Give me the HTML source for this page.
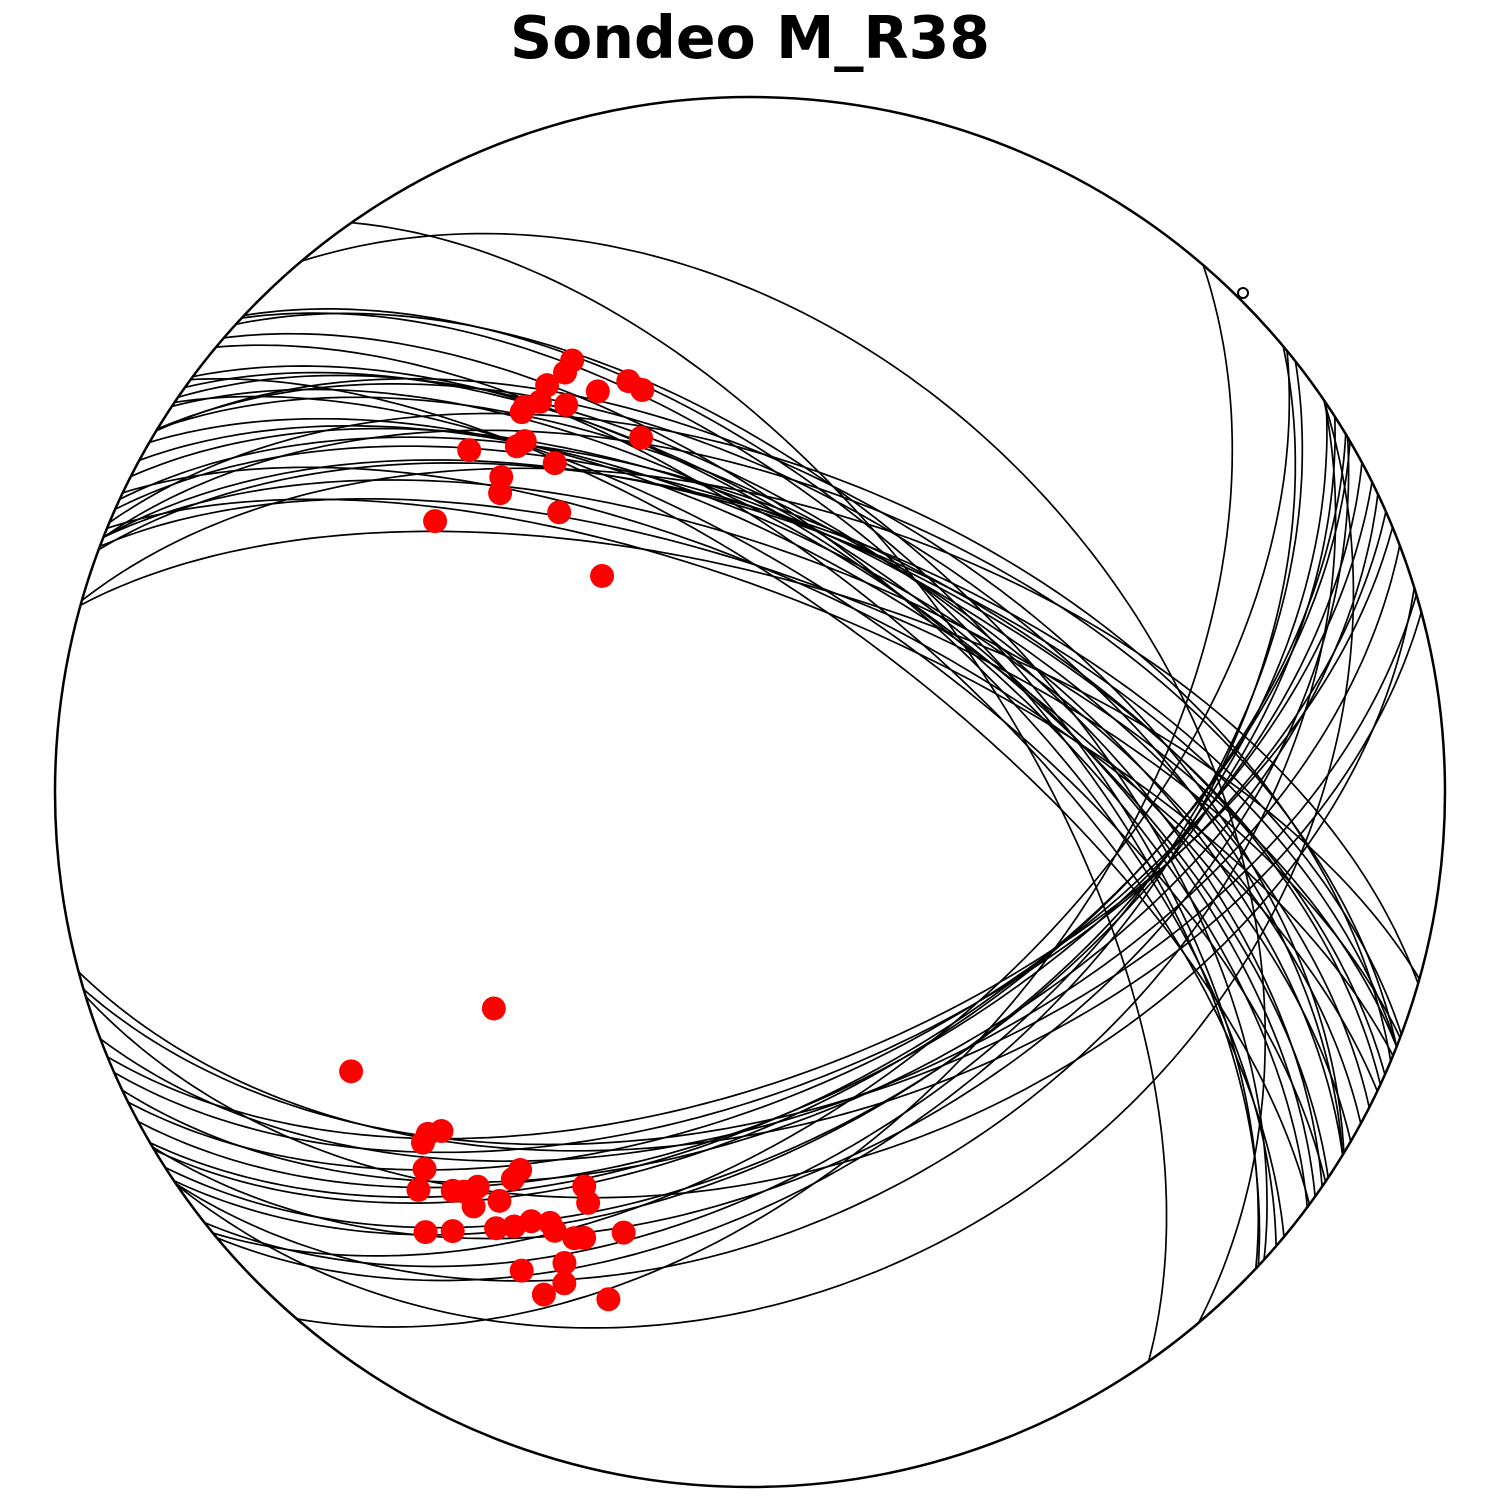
<!DOCTYPE html>
<html><head><meta charset="utf-8"><style>
html,body{margin:0;padding:0;background:#fff;}
svg{display:block;}
</style></head><body>
<svg id="chart" width="1500" height="1500" viewBox="0 0 1500 1500" xmlns="http://www.w3.org/2000/svg">
<text x="750" y="58" text-anchor="middle" font-family="DejaVu Sans, Liberation Sans, sans-serif" font-weight="bold" font-size="58.5">Sondeo M_R38</text>
<g id="planes"></g>
<g id="poles"></g>
<circle cx="750" cy="792" r="695" fill="none" stroke="#000" stroke-width="2.5"/>
<circle cx="1243" cy="293" r="5" fill="#fff" stroke="#000" stroke-width="2"/>
</svg>
<script>
// Pole trend (deg) and plunge (deg), lower hemisphere
const poleTrend = [337.6,336.2,333.5,339.2,343.5,345.0,331.7,329.7,329.0,334.6,342.9,320.6,326.0,327.3,329.3,321.7,320.1,325.7,310.7,325.6,
  229.8,235.0,222.3,223.3,223.0,220.8,219.8,216.7,215.6,214.6,213.7,211.5,211.5,211.3,202.8,201.5,216.4,214.1,210.2,208.5,207.0,204.9,204.0,201.5,200.4,196.0,201.5,205.5,200.7,202.3,195.6];
const polePlunge = [33.3,34.4,34.9,38.3,38.3,39.9,36.4,36.0,36.4,38.3,45.7,36.5,39.8,39.8,44.2,41.8,43.3,49.7,40.0,59.1,
  50.1,30.6,34.4,32.9,31.6,29.1,26.4,29.2,30.0,31.6,29.1,31.6,35.0,36.5,38.4,36.6,22.4,24.7,28.2,29.6,31.3,32.2,31.5,31.6,32.1,34.4,28.0,24.7,25.4,22.9,25.2];

const CX=750, CY=792, R=695, D2R=Math.PI/180;
const NS='http://www.w3.org/2000/svg';
function project(trendDeg, plungeDeg){
  const r = R*Math.SQRT2*Math.sin((90-plungeDeg)/2*D2R);
  return [CX + r*Math.sin(trendDeg*D2R), CY - r*Math.cos(trendDeg*D2R)];
}
function vecProject(n,e,d){
  if(d<0){n=-n;e=-e;d=-d;}
  const pl = Math.asin(Math.min(1,d))/D2R;
  const tr = Math.atan2(e,n)/D2R;
  return project(tr,pl);
}
const gPlanes=document.getElementById('planes');
const gPoles=document.getElementById('poles');
for(let i=0;i<poleTrend.length;i++){
  const dipDir=(poleTrend[i]+180)*D2R, dip=(90-polePlunge[i])*D2R;
  const s=dipDir-Math.PI/2;
  const sv=[Math.cos(s),Math.sin(s),0];
  const dv=[Math.cos(dipDir)*Math.cos(dip),Math.sin(dipDir)*Math.cos(dip),Math.sin(dip)];
  let pts=[];
  for(let k=0;k<=180;k++){
    const t=k*D2R;
    const n=Math.cos(t)*sv[0]+Math.sin(t)*dv[0];
    const e=Math.cos(t)*sv[1]+Math.sin(t)*dv[1];
    const d=Math.sin(t)*dv[2];
    const p=vecProject(n,e,d);
    pts.push(p[0].toFixed(1)+','+p[1].toFixed(1));
  }
  const pl=document.createElementNS(NS,'polyline');
  pl.setAttribute('points',pts.join(' '));
  pl.setAttribute('fill','none');pl.setAttribute('stroke','#000');pl.setAttribute('stroke-width','1.7');
  
  
  gPlanes.appendChild(pl);
}
for(let i=0;i<poleTrend.length;i++){
  const p=project(poleTrend[i],polePlunge[i]);
  const c=document.createElementNS(NS,'circle');
  c.setAttribute('cx',p[0]);c.setAttribute('cy',p[1]);c.setAttribute('r','12');
  c.setAttribute('fill','#ff0000');
  
  
  gPoles.appendChild(c);
}
</script>
</body></html>
